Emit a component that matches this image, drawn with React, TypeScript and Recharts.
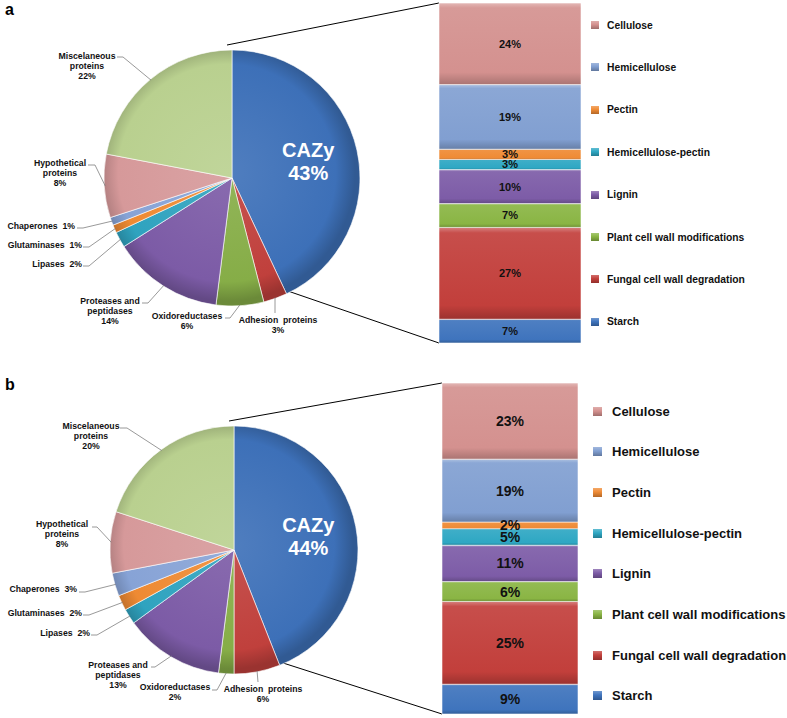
import React from 'react';
import { PieChart, Pie, Cell, BarChart, Bar, XAxis, YAxis, LabelList } from 'recharts';

// pie slices, clockwise from 12 o'clock
const proteinGroups = [
  'CAZy',
  'Adhesion proteins',
  'Oxidoreductases',
  'Proteases and peptidases',
  'Lipases',
  'Glutaminases',
  'Chaperones',
  'Hypothetical proteins',
  'Miscelaneous proteins',
];
const proteinSharesA = [43, 3, 6, 14, 2, 1, 1, 8, 22];
const proteinSharesB = [44, 6, 2, 13, 2, 2, 3, 8, 20];

// CAZy breakdown, stacked bottom -> top
const cazyClasses = [
  'Starch',
  'Fungal cell wall degradation',
  'Plant cell wall modifications',
  'Lignin',
  'Hemicellulose-pectin',
  'Pectin',
  'Hemicellulose',
  'Cellulose',
];
const cazySharesA = [7, 27, 7, 10, 3, 3, 19, 24];
const cazySharesB = [9, 25, 6, 11, 5, 2, 19, 23];

const FONT = "'Liberation Sans', Arial, sans-serif";

const pieColors = ['#3d70b8', '#c0403c', '#86ad47', '#7c5ba6', '#2fa3bf', '#ee8a33', '#87a3d6', '#d6999a', '#b9d08f'];
const barColors = ['#3f74bd', '#c23f3b', '#8ab544', '#7d5ca7', '#2ea7c3', '#ef8b35', '#819fd1', '#d4918f'];

function shade(hex: string, amt: number) {
  const n = parseInt(hex.slice(1), 16);
  const f = (c: number) => Math.max(0, Math.min(255, Math.round(amt >= 0 ? c + (255 - c) * amt : c * (1 + amt))));
  const r = f((n >> 16) & 255), g = f((n >> 8) & 255), b = f(n & 255);
  return `rgb(${r},${g},${b})`;
}

type Spot = { x: number; y: number; anchor: 'start' | 'middle' | 'end'; ax: number; ay: number; elbow: number; inline?: boolean };

const nameLines: Record<string, string[]> = {
  'Miscelaneous proteins': ['Miscelaneous', 'proteins'],
  'Hypothetical proteins': ['Hypothetical', 'proteins'],
  'Proteases and peptidases': ['Proteases and', 'peptidases'],
  'Adhesion proteins': ['Adhesion  proteins'],
};

// label placement relative to pie centre (hand-placed as in the original)
const spotsA: Record<string, Spot> = {
  'Miscelaneous proteins': { x: -145, y: -122, anchor: 'middle', ax: -115, ay: -121, elbow: 6 },
  'Hypothetical proteins': { x: -172, y: -15, anchor: 'middle', ax: -144, ay: -13, elbow: 7 },
  Chaperones: { x: -157, y: 48, anchor: 'end', ax: -155, ay: 50, elbow: 6, inline: true },
  Glutaminases: { x: -150, y: 67, anchor: 'end', ax: -149, ay: 69, elbow: 6, inline: true },
  Lipases: { x: -150, y: 86, anchor: 'end', ax: -149, ay: 88, elbow: 6, inline: true },
  'Proteases and peptidases': { x: -122, y: 123, anchor: 'middle', ax: -90, ay: 125, elbow: 6 },
  Oxidoreductases: { x: -45, y: 138, anchor: 'middle', ax: -7, ay: 140, elbow: 5 },
  'Adhesion proteins': { x: 46, y: 142, anchor: 'middle', ax: 43, ay: 135, elbow: 0 },
};
const spotsB: Record<string, Spot> = {
  'Miscelaneous proteins': { x: -143, y: -124, anchor: 'middle', ax: -114, ay: -122, elbow: 7 },
  'Hypothetical proteins': { x: -172, y: -26, anchor: 'middle', ax: -142, ay: -23, elbow: 5 },
  Chaperones: { x: -157, y: 39, anchor: 'end', ax: -155, ay: 42, elbow: 6, inline: true },
  Glutaminases: { x: -152, y: 63, anchor: 'end', ax: -151, ay: 65, elbow: 6, inline: true },
  Lipases: { x: -144, y: 83, anchor: 'end', ax: -143, ay: 85, elbow: 6, inline: true },
  'Proteases and peptidases': { x: -116, y: 115, anchor: 'middle', ax: -83, ay: 117, elbow: 4 },
  Oxidoreductases: { x: -59, y: 137, anchor: 'middle', ax: -22, ay: 140, elbow: 5 },
  'Adhesion proteins': { x: 29, y: 139, anchor: 'middle', ax: 24, ay: 132, elbow: 0 },
};

const RAD = Math.PI / 180;

function makePieLabel(spots: Record<string, Spot>) {
  return (p: any) => {
    const { cx, cy, midAngle, outerRadius } = p;
    const name = p.name ?? p.payload?.name;
    const value = p.value ?? p.payload?.value;
    if (name === 'CAZy') {
      const r = outerRadius * 0.61;
      const x = cx + r * Math.cos(-midAngle * RAD);
      const y = cy + r * Math.sin(-midAngle * RAD);
      return (
        <g>
          <text x={x} y={y - 11} textAnchor="middle" dominantBaseline="central" fill="#fff" fontSize={20} fontWeight="bold" fontFamily={FONT}>CAZy</text>
          <text x={x} y={y + 12} textAnchor="middle" dominantBaseline="central" fill="#fff" fontSize={20} fontWeight="bold" fontFamily={FONT}>{value}%</text>
        </g>
      );
    }
    const s = spots[name];
    if (!s) return null;
    const ex = cx + (outerRadius - 1) * Math.cos(-midAngle * RAD);
    const ey = cy + (outerRadius - 1) * Math.sin(-midAngle * RAD);
    const ax = cx + s.ax, ay = cy + s.ay;
    const lines = s.inline ? [`${name}  ${value}%`] : [...(nameLines[name] ?? [name]), `${value}%`];
    const pts = s.elbow ? `${ax},${ay} ${ax + s.elbow},${ay} ${ex},${ey}` : `${ax},${ay} ${ex},${ey}`;
    return (
      <g>
        <polyline points={pts} fill="none" stroke="#7f7f7f" strokeWidth={0.8} />
        {lines.map((t, i) => (
          <text key={i} x={cx + s.x} y={cy + s.y + i * 10} textAnchor={s.anchor} dominantBaseline="central" fill="#111" fontSize={8.7} fontWeight="bold" fontFamily={FONT} style={{ whiteSpace: 'pre' }}>
            {t}
          </text>
        ))}
      </g>
    );
  };
}

type PanelProps = {
  id: string;
  letter: string;
  letterY: number;
  top: number;
  shares: number[];
  cazy: number[];
  pie: { cx: number; cy: number; r: number };
  bar: { top: number; bottom: number; left: number; right: number; fontSize: number };
  legend: { sq: number; tx: number; y0: number; step: number; fontSize: number; size: number };
  spots: Record<string, Spot>;
};

function Panel({ id, letter, letterY, top, shares, cazy, pie, bar, legend, spots }: PanelProps) {
  const H = 360;
  const pieData = proteinGroups.map((name, i) => ({ name, value: shares[i] }));
  const row: Record<string, any> = { panel: letter };
  cazyClasses.forEach((c, i) => (row[c] = cazy[i]));

  const total = shares.reduce((a, b) => a + b, 0);
  const endDeg = 90 - (360 * shares[0]) / total;
  const topPt = [pie.cx, pie.cy - pie.r];
  const cutPt = [pie.cx + pie.r * Math.cos(endDeg * RAD), pie.cy - pie.r * Math.sin(endDeg * RAD)];
  const barX = 430 + bar.left;
  const barTop = bar.top;
  const barBottom = H - bar.bottom;

  return (
    <div style={{ position: 'absolute', left: 0, top, width: 787, height: H }}>
      <svg width={787} height={H} style={{ position: 'absolute', left: 0, top: 0 }}>
        <text x={5} y={letterY} fontFamily={FONT} fontWeight="bold" fontSize={16} fill="#000">{letter}</text>
        <line x1={topPt[0]} y1={topPt[1]} x2={barX} y2={barTop} stroke="#000" strokeWidth={1} />
        <line x1={cutPt[0]} y1={cutPt[1]} x2={barX} y2={barBottom} stroke="#000" strokeWidth={1} />
      </svg>
      <div style={{ position: 'absolute', left: 0, top: 0 }}>
        <PieChart width={440} height={H}>
          <defs>
            {pieColors.map((c, i) => (
              <radialGradient key={i} id={`${id}-pg${i}`} gradientUnits="userSpaceOnUse" cx={pie.cx} cy={pie.cy} r={pie.r}>
                <stop offset="0%" stopColor={shade(c, 0.1)} />
                <stop offset="85%" stopColor={c} />
                <stop offset="100%" stopColor={shade(c, -0.2)} />
              </radialGradient>
            ))}
          </defs>
          <Pie
            data={pieData}
            dataKey="value"
            nameKey="name"
            cx={pie.cx}
            cy={pie.cy}
            outerRadius={pie.r}
            startAngle={90}
            endAngle={-270}
            stroke="#ffffff"
            strokeWidth={0.6}
            label={makePieLabel(spots)}
            labelLine={false}
            isAnimationActive={false}
          >
            {pieData.map((d, i) => (
              <Cell key={d.name} fill={`url(#${id}-pg${i})`} />
            ))}
          </Pie>
        </PieChart>
      </div>
      <div style={{ position: 'absolute', left: 430, top: 0 }}>
        <BarChart width={357} height={H} data={[row]} margin={{ top: bar.top, right: bar.right, bottom: bar.bottom, left: bar.left }} barCategoryGap={0} barGap={0}>
          <defs>
            {barColors.map((c, i) => (
              <linearGradient key={i} id={`${id}-bg${i}`} x1="0" y1="0" x2="0" y2="1">
                <stop offset="0%" stopColor={shade(c, 0.35)} />
                <stop offset="6%" stopColor={shade(c, 0.08)} />
                <stop offset="85%" stopColor={c} />
                <stop offset="100%" stopColor={shade(c, -0.2)} />
              </linearGradient>
            ))}
          </defs>
          <XAxis dataKey="panel" hide />
          <YAxis hide domain={[0, 100]} />
          {cazyClasses.map((c, i) => (
            <Bar key={c} dataKey={c} stackId="cazy" fill={`url(#${id}-bg${i})`} stroke="#ffffff" strokeOpacity={0.7} strokeWidth={0.8} isAnimationActive={false}>
              <LabelList dataKey={c} position="center" formatter={(v: any) => `${v}%`} fill="#111" fontSize={bar.fontSize} fontWeight="bold" fontFamily={FONT} />
            </Bar>
          ))}
        </BarChart>
      </div>
      {cazyClasses
        .map((c, i) => ({ c, i }))
        .reverse()
        .map(({ c, i }, k) => {
          const y = legend.y0 + k * legend.step;
          return (
            <div key={c} style={{ position: 'absolute', left: legend.sq, top: y - 10, height: 20, display: 'flex', alignItems: 'center', whiteSpace: 'nowrap' }}>
              <div
                style={{
                  width: legend.size,
                  height: legend.size,
                  background: `linear-gradient(${shade(barColors[i], 0.25)}, ${barColors[i]} 45%, ${shade(barColors[i], -0.25)})`,
                }}
              />
              <span style={{ marginLeft: legend.tx - legend.sq - legend.size, fontFamily: FONT, fontWeight: 'bold', fontSize: legend.fontSize, color: '#111' }}>{c}</span>
            </div>
          );
        })}
    </div>
  );
}

export default function App() {
  return (
    <div style={{ position: 'absolute', left: 0, top: 0, width: 787, height: 718, background: '#fff', overflow: 'hidden' }}>
      <Panel
        id="a"
        letter="a"
        letterY={15}
        top={0}
        shares={proteinSharesA}
        cazy={cazySharesA}
        pie={{ cx: 227, cy: 173, r: 128 }}
        bar={{ top: 3, bottom: 17, left: 9, right: 206, fontSize: 11 }}
        legend={{ sq: 591, tx: 607, y0: 25, step: 42.4, fontSize: 10.3, size: 8 }}
        spots={spotsA}
      />
      <Panel
        id="b"
        letter="b"
        letterY={30}
        top={360}
        shares={proteinSharesB}
        cazy={cazySharesB}
        pie={{ cx: 229, cy: 185, r: 124 }}
        bar={{ top: 23, bottom: 6, left: 12, right: 209, fontSize: 14 }}
        legend={{ sq: 593, tx: 612, y0: 51, step: 40.7, fontSize: 13, size: 9 }}
        spots={spotsB}
      />
    </div>
  );
}
